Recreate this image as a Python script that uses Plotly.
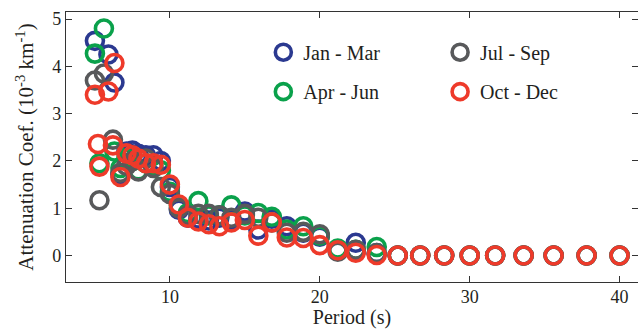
import plotly.graph_objects as go

# ---- data (period in s, attenuation coefficient in 1e-3 km^-1) ----
tail_x = [25.2, 26.7, 28.3, 30.0, 31.7, 33.6, 35.6, 37.8, 40.0]
tail_y = [0, 0, 0, 0, 0, 0, 0, 0, 0]

jan_x = [5.0, 5.9, 6.3, 6.7, 7.1, 7.5, 7.9, 8.4, 8.9, 9.4, 10.0, 10.6, 11.2, 11.9,
         12.6, 13.3, 14.1, 15.0, 15.9, 16.8, 17.8, 18.9, 20.0, 21.2, 22.4, 23.8]
jan_y = [4.54, 4.25, 3.66, 1.72, 2.20, 2.22, 2.15, 2.12, 2.12, 2.00, 1.45, 0.97, 0.80, 0.78,
         0.74, 0.80, 0.75, 0.93, 0.55, 0.78, 0.62, 0.48, 0.40, 0.12, 0.27, 0.05]

apr_x = [5.0, 5.6, 5.3, 6.3, 6.7, 7.1, 7.5, 7.9, 8.4, 8.9, 9.4, 10.0, 10.6, 11.2, 11.9,
         12.6, 13.3, 14.1, 15.0, 15.9, 16.8, 17.8, 18.9, 20.0, 21.2, 22.4, 23.8]
apr_y = [4.27, 4.80, 1.95, 2.20, 1.85, 2.05, 2.00, 1.80, 1.95, 1.90, 1.80, 1.35, 1.05, 0.90, 1.15,
         0.85, 0.85, 1.06, 0.85, 0.90, 0.82, 0.55, 0.62, 0.42, 0.15, 0.12, 0.18]

jul_x = [5.0, 5.6, 5.3, 6.2, 6.7, 7.1, 7.5, 7.9, 8.4, 8.9, 9.4, 10.0, 10.6, 11.2, 11.9,
         12.6, 13.3, 14.1, 15.0, 15.9, 16.8, 17.8, 18.9, 20.0, 21.2, 22.4, 23.8]
jul_y = [3.70, 3.85, 1.17, 2.45, 1.75, 1.90, 2.00, 1.78, 2.05, 1.85, 1.45, 1.30, 1.00, 0.85, 0.88,
         0.88, 0.85, 0.80, 0.88, 0.80, 0.70, 0.48, 0.50, 0.45, 0.08, 0.12, 0.05]

oct_x = [5.0, 5.9, 6.3, 5.2, 5.3, 6.2, 6.7, 7.1, 7.5, 7.9, 8.4, 8.9, 9.4, 10.0, 10.6, 11.2,
         11.9, 12.6, 13.3, 14.1, 15.0, 15.9, 16.8, 17.8, 18.9, 20.0, 21.2, 22.4, 23.8]
oct_y = [3.40, 3.47, 4.07, 2.36, 1.88, 2.33, 1.66, 2.16, 2.12, 2.05, 1.95, 1.95, 1.92, 1.50, 1.08, 0.80,
         0.72, 0.66, 0.62, 0.70, 0.75, 0.42, 0.70, 0.38, 0.37, 0.22, 0.11, 0.06, 0.01]

names = ["Jan - Mar", "Apr - Jun", "Jul - Sep", "Oct - Dec"]
colors = ["#2b3990", "#0aa14b", "#58595b", "#ee3a2a"]
series_x = [jan_x, apr_x, jul_x, oct_x]
series_y = [jan_y, apr_y, jul_y, oct_y]
legend_ids = ["legend", "legend2", "legend3", "legend4"]

FONT = "Liberation Serif"
fig = go.Figure()
for nm, c, xs, ys, lg in zip(names, colors, series_x, series_y, legend_ids):
    fig.add_trace(go.Scatter(
        x=xs + tail_x, y=ys + tail_y, mode="markers", name=nm, legend=lg,
        marker=dict(symbol="circle-open", size=17, color=c, line=dict(width=3.6, color=c)),
    ))

def leg(x, y):
    return dict(x=x, y=y, xanchor="left", yanchor="middle", bgcolor="rgba(0,0,0,0)",
                borderwidth=0, font=dict(family=FONT, size=20, color="#231f20"),
                itemsizing="trace")

fig.update_layout(
    width=638, height=329,
    margin=dict(l=66, r=0, t=12, b=47),
    paper_bgcolor="white", plot_bgcolor="white",
    font=dict(family=FONT, size=18, color="#231f20"),
    showlegend=True,
    legend=leg(0.345, 0.851),
    legend2=leg(0.345, 0.705),
    legend3=leg(0.654, 0.851),
    legend4=leg(0.654, 0.705),
)
fig.update_xaxes(
    range=[3.07, 41.23], tickvals=[10, 20, 30, 40], ticks="inside", ticklen=6,
    tickcolor="#333", showline=True, linecolor="#333", linewidth=1.2, mirror="ticks",
    showgrid=False, zeroline=False, automargin=False,
    tickfont=dict(family=FONT, size=18, color="#231f20"),
    ticklabelstandoff=-2,
    title=dict(text="Period (s)", font=dict(family=FONT, size=20, color="#231f20"), standoff=10),
)
fig.update_yaxes(
    range=[-0.56, 5.15], tickvals=[0, 1, 2, 3, 4, 5], ticks="inside", ticklen=6,
    tickcolor="#333", showline=True, linecolor="#333", linewidth=1.2, mirror="ticks",
    showgrid=False, zeroline=False, automargin=False,
    tickfont=dict(family=FONT, size=18, color="#231f20"),
    ticklabelstandoff=0,
    title=dict(text="Attenuation Coef. (10<sup>-3</sup> km<sup>-1</sup>)",
               font=dict(family=FONT, size=21, color="#231f20"), standoff=12),
)
fig.write_html("out.html")
